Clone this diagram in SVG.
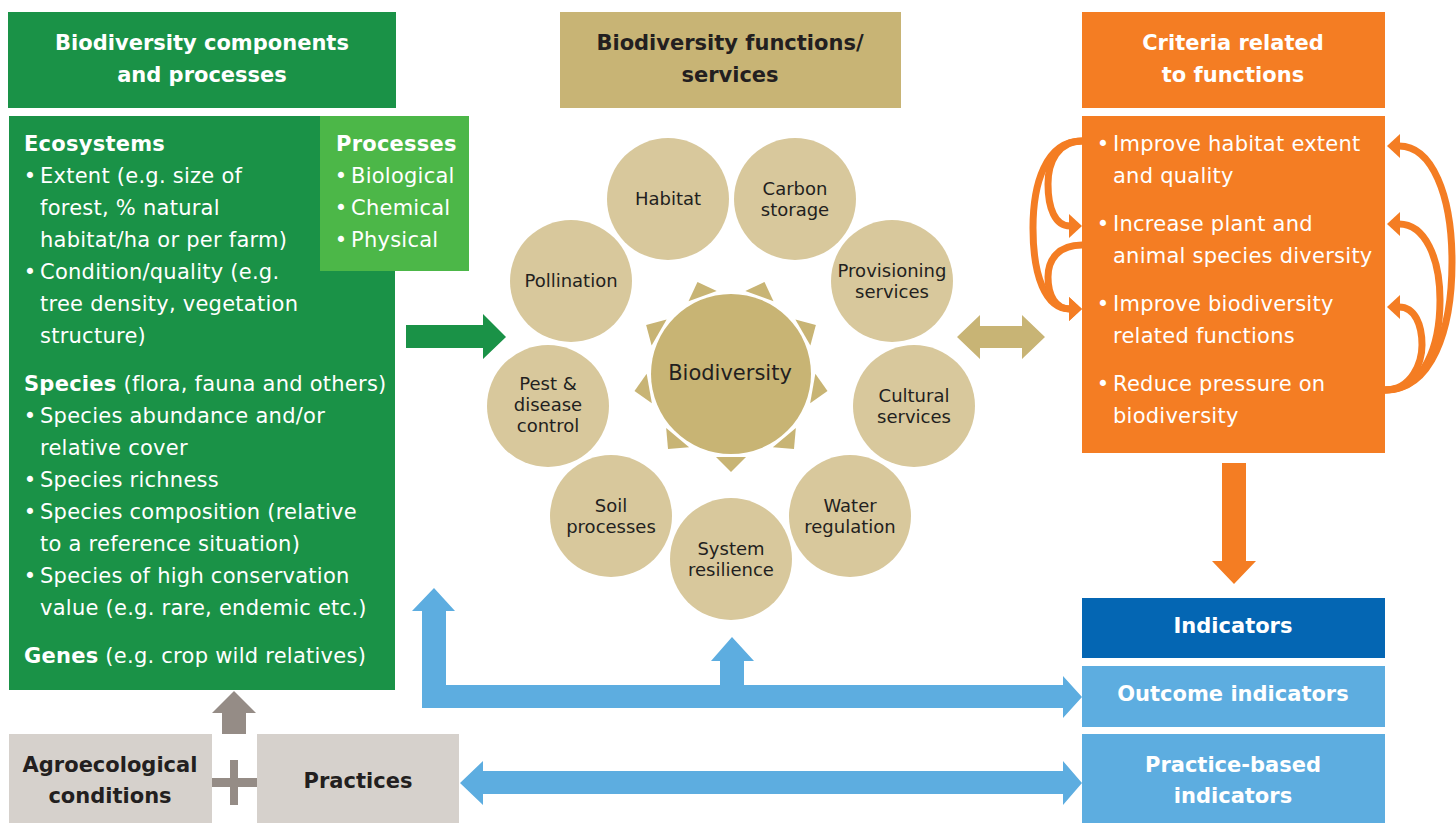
<svg xmlns="http://www.w3.org/2000/svg" width="1456" height="823" viewBox="0 0 1456 823">
<style>
text{font-family:"DejaVu Sans",Verdana,sans-serif}
.hd{font-size:21px;font-weight:bold;text-anchor:middle}
.w{fill:#ffffff}
.dk{fill:#231f20}
.t{font-size:21px;fill:#ffffff;letter-spacing:0.25px}
.b{font-weight:bold}
.bl{font-size:21px;fill:#ffffff;text-anchor:middle}
.c{font-size:18px;fill:#231f20;text-anchor:middle}
.oc{fill:#d8c89c}
.ray{fill:#c8b474}
.oarc{fill:none;stroke:#f47d23;stroke-width:7}
</style>
<defs>
<marker id="oh" markerUnits="userSpaceOnUse" viewBox="0 0 13 24" refX="1" refY="12" markerWidth="13" markerHeight="24" orient="auto">
<path d="M0,0 L13,12 L0,24 z" fill="#f47d23"/>
</marker>
</defs>
<rect width="1456" height="823" fill="#ffffff"/>

<g id="header-components">
<rect x="8" y="12" width="388" height="96" fill="#1a9247"/>
<text class="hd w" x="202" y="50">Biodiversity components</text>
<text class="hd w" x="202" y="82">and processes</text>
</g>

<g id="header-functions">
<rect x="560" y="12" width="341" height="96" fill="#c8b475"/>
<text class="hd dk" x="730" y="50">Biodiversity functions/</text>
<text class="hd dk" x="730" y="82">services</text>
</g>

<g id="header-criteria">
<rect x="1082" y="12" width="303" height="96" fill="#f47d23"/>
<text class="hd w" x="1233" y="50">Criteria related</text>
<text class="hd w" x="1233" y="82">to functions</text>
</g>

<g id="components">
<rect x="9" y="116" width="386" height="574" fill="#1a9247"/>
<text class="t b" x="24" y="151">Ecosystems</text>
<text class="bl" x="30" y="183">•</text><text class="t" x="40" y="183">Extent (e.g. size of</text>
<text class="t" x="40" y="215">forest, % natural</text>
<text class="t" x="40" y="247">habitat/ha or per farm)</text>
<text class="bl" x="30" y="279">•</text><text class="t" x="40" y="279">Condition/quality (e.g.</text>
<text class="t" x="40" y="311">tree density, vegetation</text>
<text class="t" x="40" y="343">structure)</text>
<text class="t" x="24" y="391"><tspan class="b">Species</tspan> (flora, fauna and others)</text>
<text class="bl" x="30" y="423">•</text><text class="t" x="40" y="423">Species abundance and/or</text>
<text class="t" x="40" y="455">relative cover</text>
<text class="bl" x="30" y="487">•</text><text class="t" x="40" y="487">Species richness</text>
<text class="bl" x="30" y="519">•</text><text class="t" x="40" y="519">Species composition (relative</text>
<text class="t" x="40" y="551">to a reference situation)</text>
<text class="bl" x="30" y="583">•</text><text class="t" x="40" y="583">Species of high conservation</text>
<text class="t" x="40" y="615">value (e.g. rare, endemic etc.)</text>
<text class="t" x="24" y="663"><tspan class="b">Genes</tspan> (e.g. crop wild relatives)</text>
</g>

<g id="processes">
<rect x="320" y="116" width="149" height="155" fill="#4cb748"/>
<text class="t b" x="336" y="151">Processes</text>
<text class="bl" x="341" y="183">•</text><text class="t" x="351" y="183">Biological</text>
<text class="bl" x="341" y="215">•</text><text class="t" x="351" y="215">Chemical</text>
<text class="bl" x="341" y="247">•</text><text class="t" x="351" y="247">Physical</text>
</g>

<g id="biodiversity">
<g class="ray">
<polygon points="-15,-83 15,-83 0,-98" transform="translate(731,374) rotate(20)"/>
<polygon points="-15,-83 15,-83 0,-98" transform="translate(731,374) rotate(60)"/>
<polygon points="-15,-83 15,-83 0,-98" transform="translate(731,374) rotate(100)"/>
<polygon points="-15,-83 15,-83 0,-98" transform="translate(731,374) rotate(140)"/>
<polygon points="-15,-83 15,-83 0,-98" transform="translate(731,374) rotate(180)"/>
<polygon points="-15,-83 15,-83 0,-98" transform="translate(731,374) rotate(220)"/>
<polygon points="-15,-83 15,-83 0,-98" transform="translate(731,374) rotate(260)"/>
<polygon points="-15,-83 15,-83 0,-98" transform="translate(731,374) rotate(300)"/>
<polygon points="-15,-83 15,-83 0,-98" transform="translate(731,374) rotate(340)"/>
</g>
<circle cx="731" cy="374" r="80" fill="#c8b474"/>
<text x="730" y="380" font-size="21" fill="#231f20" text-anchor="middle">Biodiversity</text>
</g>

<g id="habitat"><circle class="oc" cx="668" cy="199" r="61"/><text class="c" x="668" y="205">Habitat</text></g>
<g id="carbon-storage"><circle class="oc" cx="795" cy="199" r="61"/><text class="c" x="795" y="195">Carbon</text><text class="c" x="795" y="216">storage</text></g>
<g id="provisioning"><circle class="oc" cx="892" cy="281" r="61"/><text class="c" x="892" y="277">Provisioning</text><text class="c" x="892" y="298">services</text></g>
<g id="cultural"><circle class="oc" cx="914" cy="406" r="61"/><text class="c" x="914" y="402">Cultural</text><text class="c" x="914" y="423">services</text></g>
<g id="water"><circle class="oc" cx="850" cy="516" r="61"/><text class="c" x="850" y="512">Water</text><text class="c" x="850" y="533">regulation</text></g>
<g id="resilience"><circle class="oc" cx="731" cy="559" r="61"/><text class="c" x="731" y="555">System</text><text class="c" x="731" y="576">resilience</text></g>
<g id="soil"><circle class="oc" cx="611" cy="516" r="61"/><text class="c" x="611" y="512">Soil</text><text class="c" x="611" y="533">processes</text></g>
<g id="pest"><circle class="oc" cx="548" cy="406" r="61"/><text class="c" x="548" y="390">Pest &amp;</text><text class="c" x="548" y="411">disease</text><text class="c" x="548" y="432">control</text></g>
<g id="pollination"><circle class="oc" cx="571" cy="281" r="61"/><text class="c" x="571" y="287">Pollination</text></g>

<g id="criteria">
<rect x="1082" y="116" width="303" height="337" fill="#f47d23"/>
<text class="bl" x="1103" y="151">•</text><text class="t" x="1113" y="151">Improve habitat extent</text>
<text class="t" x="1113" y="183">and quality</text>
<text class="bl" x="1103" y="231">•</text><text class="t" x="1113" y="231">Increase plant and</text>
<text class="t" x="1113" y="263">animal species diversity</text>
<text class="bl" x="1103" y="311">•</text><text class="t" x="1113" y="311">Improve biodiversity</text>
<text class="t" x="1113" y="343">related functions</text>
<text class="bl" x="1103" y="391">•</text><text class="t" x="1113" y="391">Reduce pressure on</text>
<text class="t" x="1113" y="423">biodiversity</text>
</g>

<g id="indicators">
<rect x="1082" y="598" width="303" height="60" fill="#0466b3"/>
<text class="hd w" x="1233" y="633">Indicators</text>
</g>
<g id="outcome-indicators">
<rect x="1082" y="666" width="303" height="61" fill="#5dade0"/>
<text class="hd w" x="1233" y="701">Outcome indicators</text>
</g>
<g id="practice-indicators">
<rect x="1082" y="734" width="303" height="89" fill="#5dade0"/>
<text class="hd w" x="1233" y="772">Practice-based</text>
<text class="hd w" x="1233" y="803">indicators</text>
</g>

<g id="agroecological">
<rect x="9" y="734" width="203" height="89" fill="#d6d1cc"/>
<text class="hd dk" x="110" y="772">Agroecological</text>
<text class="hd dk" x="110" y="803">conditions</text>
</g>
<g id="practices">
<rect x="257" y="734" width="202" height="89" fill="#d6d1cc"/>
<text class="hd dk" x="358" y="788">Practices</text>
</g>

<g id="connectors">
<polygon points="406,325 483,325 483,314 506,337 483,359 483,348 406,348" fill="#1a9247"/>
<polygon points="957,337 980,315 980,326 1022,326 1022,315 1045,337 1022,359 1022,348 980,348 980,359" fill="#c8b475"/>
<polygon points="1222,463 1246,463 1246,561 1256,561 1234,584 1212,561 1222,561" fill="#f47d23"/>
<polygon points="422,708 422,611 412,611 434,588 455,611 446,611 446,685 720,685 720,661 711,661 732,637 754,661 744,661 744,685 1063,685 1063,676 1082,697 1063,718 1063,708" fill="#5dade0"/>
<polygon points="460,783 483,761 483,771 1063,771 1063,761 1082,783 1063,805 1063,794 483,794 483,805" fill="#5dade0"/>
<polygon points="222,734 222,713 212,713 234,691 256,713 246,713 246,734" fill="#958c86"/>
<rect x="212" y="778" width="45" height="9" fill="#958c86"/>
<rect x="230" y="760" width="8" height="45" fill="#958c86"/>
<path class="oarc" d="M1082,141 C1058,141 1048,162 1048,184 C1048,208 1055,226 1070,226" marker-end="url(#oh)"/>
<path class="oarc" d="M1082,141 C1045,141 1033,185 1033,228 C1033,275 1045,309 1070,309" marker-end="url(#oh)"/>
<path class="oarc" d="M1082,245 C1058,245 1048,260 1048,277 C1048,296 1056,309 1070,309" marker-end="url(#oh)"/>
<path class="oarc" d="M1385,390 C1432,390 1452,330 1452,262 C1452,195 1432,146 1399,146" marker-end="url(#oh)"/>
<path class="oarc" d="M1385,390 C1425,390 1440,345 1440,300 C1440,258 1425,224 1399,224" marker-end="url(#oh)"/>
<path class="oarc" d="M1385,390 C1412,390 1422,362 1422,345 C1422,325 1415,307 1399,307" marker-end="url(#oh)"/>
</g>
</svg>
